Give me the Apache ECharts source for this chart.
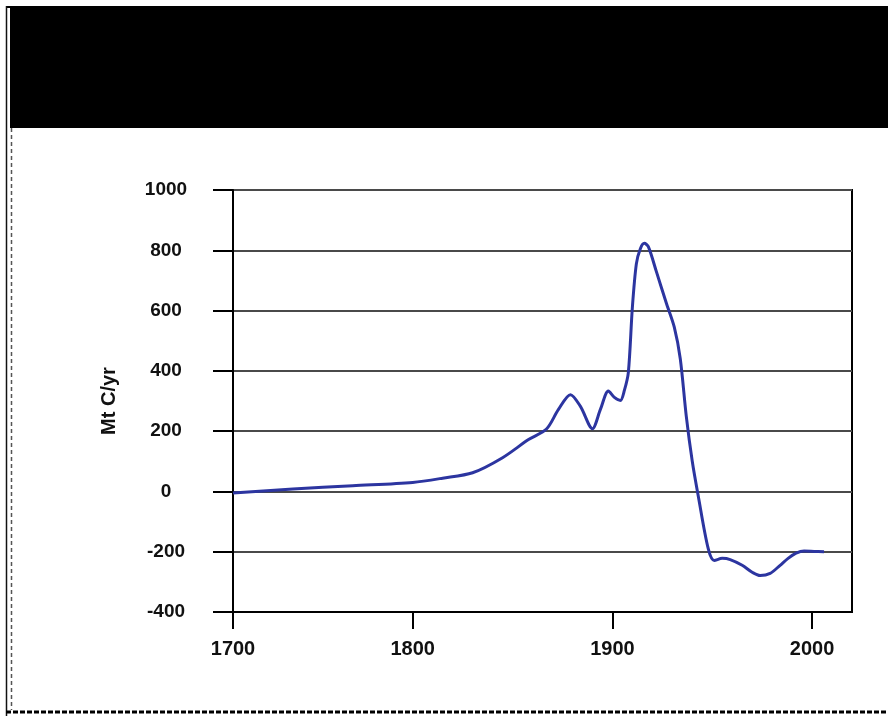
<!DOCTYPE html>
<html>
<head>
<meta charset="utf-8">
<script src="https://cdn.jsdelivr.net/npm/echarts@6/dist/echarts.min.js"></script>
<style>
html,body{margin:0;padding:0;background:#fff;}
#c{width:888px;height:716px;}
</style>
</head>
<body>
<div id="c"></div>
<script>
// Data
const years  = [1710,1740,1770,1800,1815,1830,1845,1858,1867,1873,1879,1884,1890,1894,1898,1901,1904,1906,1908,1910,1912,1914,1916,1918,1922,1927,1931,1934,1937,1940,1943,1948,1951,1955,1959,1965,1970,1974,1979,1984,1988,1992,1996,2001,2006];
const values = [-5,8,19,30,44,62,112,172,207,272,321,282,208,272,333,312,302,335,395,610,755,805,823,812,730,625,545,440,250,100,-15,-190,-229,-222,-226,-245,-268,-279,-272,-245,-222,-205,-198,-199,-200];
const xTickValues = [1710, 1800, 1900, 2000];
const xTickLabels = ['1700', '1800', '1900', '2000'];
const yTicks = [-400, -200, 0, 200, 400, 600, 800, 1000];
const yAxisName = 'Mt C/yr';

const chart = echarts.init(document.getElementById('c'), null, {renderer: 'canvas'});
const lineData = years.map((y, i) => [y, values[i]]);

chart.setOption({
  backgroundColor: '#ffffff',
  animation: false,
  graphic: [
    {type: 'rect', shape: {x: 6, y: 6, width: 882, height: 2}, style: {fill: '#000'}, silent: true},
    {type: 'rect', shape: {x: 10, y: 8, width: 878, height: 120}, style: {fill: '#000'}, silent: true},
    {type: 'line', shape: {x1: 6.5, y1: 6, x2: 6.5, y2: 716}, style: {stroke: '#111', lineWidth: 1.5}, silent: true},
    {type: 'line', shape: {x1: 11.5, y1: 128, x2: 11.5, y2: 710}, style: {stroke: '#555', lineWidth: 1.5, lineDash: [4, 3]}, silent: true},
    {type: 'line', shape: {x1: 6, y1: 712, x2: 888, y2: 712}, style: {stroke: '#000', lineWidth: 3, lineDash: [5, 2]}, silent: true}
  ],
  grid: {left: 233, top: 190, right: 36, bottom: 104, show: true, borderColor: '#000', borderWidth: 2, backgroundColor: 'transparent'},
  xAxis: {
    type: 'value',
    min: 1710,
    max: 2020,
    axisLine: {show: true, onZero: false, lineStyle: {color: '#000', width: 2}},
    axisTick: {show: true, customValues: xTickValues, length: 17, lineStyle: {color: '#000', width: 2}},
    axisLabel: {
      show: true,
      customValues: xTickValues,
      formatter: function (v) { const i = xTickValues.indexOf(v); return i >= 0 ? xTickLabels[i] : ''; },
      margin: 37,
      verticalAlign: 'middle',
      color: '#111',
      fontFamily: 'Liberation Sans',
      fontWeight: 'bold',
      fontSize: 20
    },
    splitLine: {show: false}
  },
  yAxis: {
    type: 'value',
    min: yTicks[0],
    max: yTicks[yTicks.length - 1],
    interval: 200,
    name: yAxisName,
    nameLocation: 'middle',
    nameRotate: 90,
    nameGap: 114,
    nameTextStyle: {color: '#111', fontFamily: 'Liberation Sans', fontWeight: 'bold', fontSize: 20},
    axisLine: {show: true, onZero: false, lineStyle: {color: '#000', width: 2}},
    axisTick: {show: true, length: 20, lineStyle: {color: '#000', width: 2}},
    axisLabel: {
      margin: 67,
      align: 'center',
      color: '#111',
      fontFamily: 'Liberation Sans',
      fontWeight: 'bold',
      fontSize: 19,
      formatter: function (v) { return String(v); }
    },
    splitLine: {show: true, lineStyle: {color: '#4a4a4a', width: 2}}
  },
  series: [{
    type: 'line',
    data: lineData,
    smooth: 0.3,
    showSymbol: false,
    lineStyle: {color: '#2c35a0', width: 3},
    z: 5
  }]
});
</script>
</body>
</html>
